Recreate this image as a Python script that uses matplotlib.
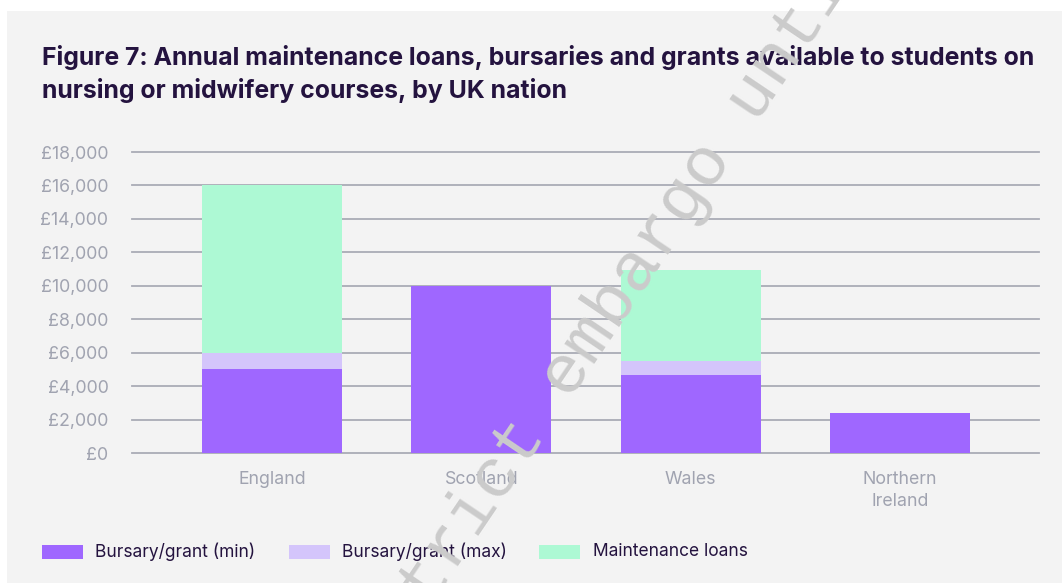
import matplotlib
matplotlib.use("Agg")
import matplotlib.pyplot as plt
from matplotlib.patches import Rectangle
import numpy as np

# Data
nations = ["England", "Scotland", "Wales", "Northern\nIreland"]
grant_min = [5000, 10000, 4650, 2400]
grant_max_extra = [1000, 0, 850, 0]
maintenance_loans = [10000, 0, 5450, 0]
yticks = [0, 2000, 4000, 6000, 8000, 10000, 12000, 14000, 16000, 18000]
series_labels = ["Bursary/grant (min)", "Bursary/grant (max)", "Maintenance loans"]
title = ("Figure 7: Annual maintenance loans, bursaries and grants available to students on\n"
         "nursing or midwifery courses, by UK nation")

C_MIN = "#9f67ff"
C_MAX = "#d4c5fb"
C_LOAN = "#adf9d4"
C_TITLE = "#24133f"
C_TICK = "#a0a3b0"
C_GRID = "#a9abb6"
BG = "#f3f3f3"
FONT = "Inter"

W, H = 1062, 583
fig = plt.figure(figsize=(W / 100, H / 100), dpi=100, facecolor="white")
fig.patches.append(Rectangle((7 / W, 0), 1 - 7 / W, (H - 11) / H,
                             transform=fig.transFigure, facecolor=BG,
                             edgecolor="none", zorder=-5))

ax = fig.add_axes([132 / W, 130 / H, 907 / W, 301 / H])
ax.set_zorder(1)
ax.patch.set_alpha(0)

x = np.arange(len(nations))
bw = 0.669
ax.bar(x, grant_min, width=bw, color=C_MIN, zorder=3)
ax.bar(x, grant_max_extra, width=bw, bottom=grant_min, color=C_MAX, zorder=3)
bottom2 = np.array(grant_min) + np.array(grant_max_extra)
ax.bar(x, maintenance_loans, width=bw, bottom=bottom2, color=C_LOAN, zorder=3)

ax.set_xlim(-0.669, 3.664)
ax.set_ylim(0, 18000)
ax.set_yticks(yticks)
ax.set_yticklabels([f"£{v:,}" for v in yticks])
ax.yaxis.grid(True, color=C_GRID, linewidth=1.3, zorder=1)
for gl in ax.get_ygridlines():
    gl.set_clip_on(False)
ax.set_axisbelow(True)
ax.set_xticks(x)
ax.set_xticklabels(nations, linespacing=1.4)
for s in ax.spines.values():
    s.set_visible(False)
ax.tick_params(axis="both", length=0, colors=C_TICK, labelsize=12.8)
ax.tick_params(axis="y", pad=17)
ax.tick_params(axis="x", pad=13)
for lab in ax.get_xticklabels() + ax.get_yticklabels():
    lab.set_fontfamily(FONT)

fig.text(42 / W, 1 - 45 / H, title, ha="left", va="top", fontsize=17.9,
         fontweight="bold", color=C_TITLE, family=FONT, linespacing=1.4)

# Legend
leg_items = [(42, 95, C_MIN, series_labels[0]),
             (289, 342, C_MAX, series_labels[1]),
             (539, 593, C_LOAN, series_labels[2])]
for px, tx, col, lab in leg_items:
    fig.patches.append(Rectangle((px / W, 1 - 559 / H), 41 / W, 14 / H,
                                 transform=fig.transFigure, facecolor=col,
                                 edgecolor="none", zorder=2))
    fig.text(tx / W, 1 - 552 / H, lab, ha="left", va="center", fontsize=12.5,
             color=C_TITLE, family=FONT)

# Watermark
fig.text(625 / W, 1 - 287 / H, "strict embargo until", rotation=56,
         rotation_mode="anchor", ha="center", va="center", fontsize=50,
         family="Liberation Mono", color="#cbcbcb", zorder=10)

fig.savefig("out.png", dpi=100, facecolor="white")
